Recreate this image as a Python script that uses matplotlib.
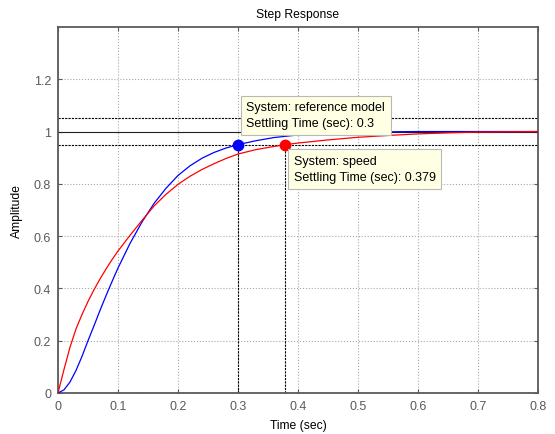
import matplotlib
matplotlib.use("Agg")
import matplotlib.pyplot as plt

plt.rcParams["font.family"] = ["Liberation Sans", "DejaVu Sans"]

# ---- step response samples ----
t_ref = [0, .01, .02, .03, .04, .05, .06, .07, .08, .09, .10, .12, .14, .16, .18,
         .20, .22, .24, .26, .28, .30, .33, .36, .40, .45, .50, .55, .60, .70, .80]
y_ref = [0, 0.012, 0.042, 0.086, 0.14, 0.20, 0.257, 0.316, 0.372, 0.426, 0.478,
         0.572, 0.654, 0.725, 0.783, 0.832, 0.869, 0.898, 0.92, 0.937, 0.95, 0.965,
         0.977, 0.987, 0.993, 0.997, 0.999, 1.0, 1.0, 1.0]

t_speed = [0, .01, .02, .03, .04, .05, .06, .07, .08, .09, .10, .12, .14, .16, .18,
           .20, .22, .24, .26, .28, .30, .33, .36, .379, .40, .45, .50, .55, .60,
           .65, .70, .80]
y_speed = [0, 0.09, 0.175, 0.245, 0.30, 0.35, 0.395, 0.436, 0.474, 0.51, 0.543,
           0.603, 0.66, 0.715, 0.76, 0.798, 0.829, 0.855, 0.877, 0.897, 0.914, 0.931,
           0.943, 0.95, 0.956, 0.968, 0.978, 0.985, 0.991, 0.995, 0.998, 1.0]

settle_ref = 0.3
settle_speed = 0.379
band_lo, band_hi, final = 0.95, 1.05, 1.0

xticks = [0, 0.1, 0.2, 0.3, 0.4, 0.5, 0.6, 0.7, 0.8]
yticks = [0, 0.2, 0.4, 0.6, 0.8, 1.0, 1.2]
xticklabels = ["0", "0.1", "0.2", "0.3", "0.4", "0.5", "0.6", "0.7", "0.8"]
yticklabels = ["0", "0.2", "0.4", "0.6", "0.8", "1", "1.2"]

GRAY = "#5a5a5a"

fig = plt.figure(figsize=(5.55, 4.35), dpi=100)
ax = fig.add_axes([0.1045, 0.0943, 0.865, 0.8414])

ax.set_xlim(0, 0.8)
ax.set_ylim(0, 1.4)
ax.set_xticks(xticks)
ax.set_xticklabels(xticklabels)
ax.set_yticks(yticks)
ax.set_yticklabels(yticklabels)
ax.grid(True, linestyle=":", color="#a8a8a8", linewidth=0.8)
ax.tick_params(direction="in", length=3, width=0.8, colors=GRAY,
               labelsize=9, top=True, right=True, pad=5)
for sp in ax.spines.values():
    sp.set_color(GRAY)
    sp.set_linewidth(1.3)

# settling band + final value
ax.axhline(band_hi, color="black", lw=0.8, ls=(0, (2, 1)), zorder=2)
ax.axhline(band_lo, color="black", lw=0.8, ls=(0, (2, 1)), zorder=2)
ax.axhline(final, color="#222222", lw=0.8, zorder=2)

ax.plot(t_ref, y_ref, color="blue", lw=0.9, zorder=3)
ax.plot(t_speed, y_speed, color="red", lw=0.9, zorder=3)

# settling time markers
ax.plot([settle_ref, settle_ref], [0, band_lo], color="black", lw=0.8, ls=(0, (2, 1)), zorder=2)
ax.plot([settle_speed, settle_speed], [0, band_lo], color="black", lw=0.8, ls=(0, (2, 1)), zorder=2)
ax.plot(settle_ref, band_lo, "o", color="blue", ms=7.5, zorder=4)
ax.plot(settle_speed, band_lo, "o", color="red", ms=7.5, zorder=4)

box = dict(boxstyle="square,pad=0.45", fc="#ffffe4", ec="#b8b8b8", lw=0.8)
ax.text(0.314, 1.062, "System: reference model\nSettling Time (sec): %g" % settle_ref,
        fontsize=9, va="center", ha="left", linespacing=1.45, bbox=box, zorder=5)
ax.text(0.393, 0.857, "System: speed\nSettling Time (sec): %g" % settle_speed,
        fontsize=9, va="center", ha="left", linespacing=1.45, bbox=box, zorder=5)

ax.set_title("Step Response", fontsize=8.7, pad=7)
ax.set_xlabel("Time (sec)", fontsize=8.7, labelpad=5)
ax.set_ylabel("Amplitude", fontsize=8.7, labelpad=8)

fig.savefig("out.png", dpi=100)
